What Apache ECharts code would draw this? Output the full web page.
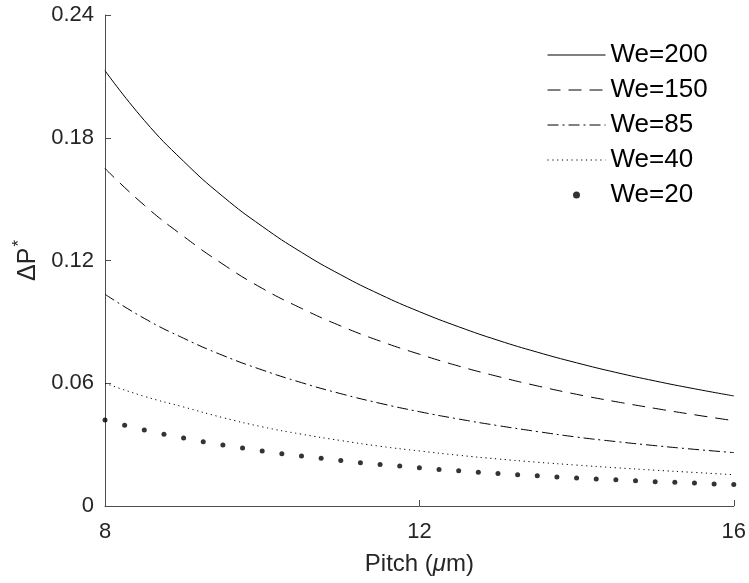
<!DOCTYPE html>
<html>
<head>
<meta charset="utf-8">
<script src="https://cdn.jsdelivr.net/npm/echarts@6/dist/echarts.min.js"></script>
<style>
  html, body { margin: 0; padding: 0; background: #fff; }
  #chart { width: 749px; height: 583px; }
</style>
</head>
<body>
<div id="chart"></div>
<script>
// Pitch values (µm) used for the continuous curves
var pitchLine = [8, 8.5, 9, 9.5, 10, 10.5, 11, 11.5, 12, 12.5, 13, 13.5, 14, 14.5, 15, 15.5, 16];

// Dimensionless pressure drop for each Weber number
var we200 = [0.2128, 0.1885, 0.1685, 0.1513, 0.1367, 0.1240, 0.1130, 0.1034, 0.0950, 0.0876, 0.0810, 0.0752, 0.0700, 0.0653, 0.0611, 0.0573, 0.0538];
var we150 = [0.1650, 0.1470, 0.1318, 0.1182, 0.1064, 0.0966, 0.0880, 0.0806, 0.0742, 0.0684, 0.0633, 0.0587, 0.0546, 0.0510, 0.0477, 0.0446, 0.0417];
var we85  = [0.1035, 0.0917, 0.0820, 0.0736, 0.0665, 0.0603, 0.0549, 0.0502, 0.0461, 0.0425, 0.0393, 0.0364, 0.0337, 0.0315, 0.0295, 0.0277, 0.0261];
var we40  = [0.0600, 0.0536, 0.0484, 0.0432, 0.0387, 0.0351, 0.0320, 0.0292, 0.0269, 0.0248, 0.0230, 0.0214, 0.0200, 0.0187, 0.0175, 0.0164, 0.0153];

// We=20 is drawn as separate markers on a finer pitch grid
var pitchDots = [8, 8.25, 8.5, 8.75, 9, 9.25, 9.5, 9.75, 10, 10.25, 10.5, 10.75, 11, 11.25, 11.5, 11.75, 12,
                 12.25, 12.5, 12.75, 13, 13.25, 13.5, 13.75, 14, 14.25, 14.5, 14.75, 15, 15.25, 15.5, 15.75, 16];
var we20 = [0.0420, 0.0395, 0.0372, 0.0351, 0.0332, 0.0314, 0.0298, 0.0283, 0.0269, 0.0256, 0.0244, 0.0233, 0.0222,
            0.0212, 0.0203, 0.0195, 0.0187, 0.0179, 0.0172, 0.0165, 0.0159, 0.0153, 0.0148, 0.0142, 0.0137, 0.0132,
            0.0128, 0.0124, 0.0119, 0.0116, 0.0112, 0.0108, 0.0105];

var xTicks = [8, 12, 16];
var yTicks = [0, 0.06, 0.12, 0.18, 0.24];
var seriesNames = ['We=200', 'We=150', 'We=85', 'We=40', 'We=20'];

function pairs(xs, ys) {
  return xs.map(function (x, i) { return [x, ys[i]]; });
}

var FONT = '"Liberation Sans", Arial, Helvetica, sans-serif';
var TXT = '#262626';
var AXIS = '#4d4d4d';

function lineSeries(name, ys, type) {
  return {
    name: name,
    type: 'line',
    data: pairs(pitchLine, ys),
    symbol: 'none',
    smooth: true,
    silent: true,
    lineStyle: { color: '#000', width: 1, type: type },
    itemStyle: { color: '#000' }
  };
}

// Legend entries: the curves show only their line sample, We=20 only its marker
var legendData = seriesNames.map(function (n) {
  if (n === 'We=20') return { name: n };
  return { name: n, itemStyle: { opacity: 0 }, lineStyle: { width: 1, color: '#000' } };
});

var chart = echarts.init(document.getElementById('chart'), null, { renderer: 'canvas' });

chart.setOption({
  animation: false,
  backgroundColor: '#fff',
  grid: { left: 105, right: 15, top: 15, bottom: 77, containLabel: false },
  legend: {
    orient: 'vertical',
    left: 542,
    top: 36,
    padding: 5,
    itemWidth: 58,
    itemHeight: 7,
    itemGap: 7,
    itemTextGap: 5,
    data: legendData,
    textStyle: { fontFamily: FONT, fontSize: 26, color: '#000', lineHeight: 28 }
  },
  xAxis: {
    type: 'value',
    min: 8,
    max: 16,
    interval: 4,
    name: '{n|Pitch (}{i|μ}{n|m)}',
    nameLocation: 'middle',
    nameGap: 46,
    nameTextStyle: {
      rich: {
        n: { fontFamily: FONT, fontSize: 24, color: TXT },
        i: { fontFamily: FONT, fontSize: 24, color: TXT, fontStyle: 'italic' }
      }
    },
    axisLine: { show: true, lineStyle: { color: AXIS, width: 1 } },
    axisTick: { show: true, inside: true, length: 6, lineStyle: { color: AXIS } },
    axisLabel: {
      margin: 15,
      fontFamily: FONT, fontSize: 22, color: TXT,
      formatter: function (v) { return xTicks.indexOf(v) >= 0 ? String(v) : ''; }
    },
    splitLine: { show: false }
  },
  yAxis: {
    type: 'value',
    min: 0,
    max: 0.24,
    interval: 0.06,
    name: '{n|ΔP}{s|*}',
    nameLocation: 'middle',
    nameGap: 58,
    nameRotate: 90,
    nameTextStyle: {
      rich: {
        n: { fontFamily: FONT, fontSize: 25, color: TXT },
        s: { fontFamily: FONT, fontSize: 17, color: TXT, padding: [0, 0, 16, 1] }
      }
    },
    axisLine: { show: true, lineStyle: { color: AXIS, width: 1 } },
    axisTick: { show: true, inside: true, length: 6, lineStyle: { color: AXIS } },
    axisLabel: {
      margin: 11,
      fontFamily: FONT, fontSize: 22, color: TXT,
      formatter: function (v) {
        var idx = yTicks.findIndex(function (t) { return Math.abs(t - v) < 1e-9; });
        return idx >= 0 ? (v === 0 ? '0' : v.toFixed(2)) : '';
      }
    },
    splitLine: { show: false }
  },
  series: [
    lineSeries('We=200', we200, 'solid'),
    lineSeries('We=150', we150, [13, 8]),
    lineSeries('We=85', we85, [11, 4, 2, 4]),
    lineSeries('We=40', we40, [1.2, 3.6]),
    {
      name: 'We=20',
      type: 'scatter',
      data: pairs(pitchDots, we20),
      symbol: 'circle',
      symbolSize: 5,
      silent: true,
      itemStyle: { color: '#000' }
    }
  ]
});
</script>
</body>
</html>
